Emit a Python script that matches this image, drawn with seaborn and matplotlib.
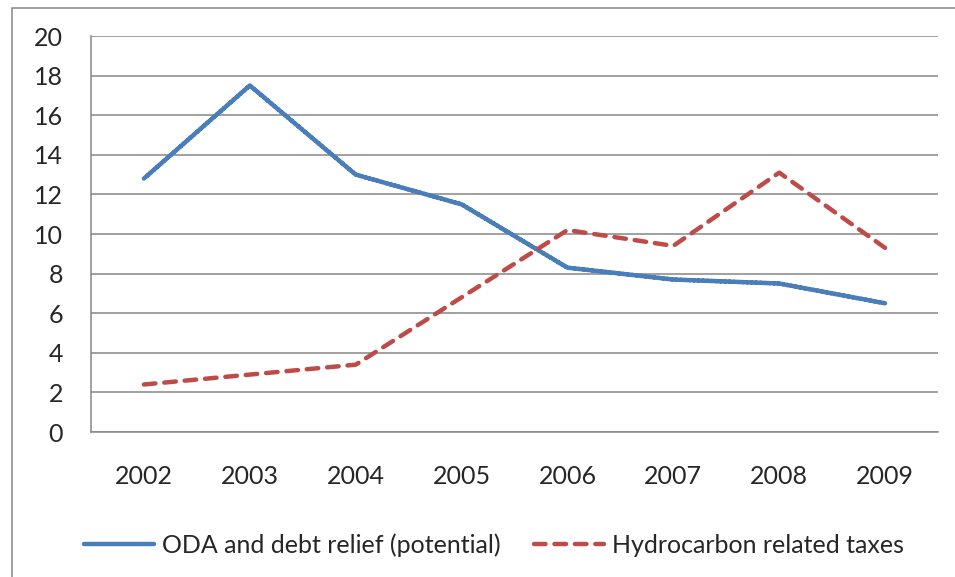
import numpy as np
import pandas as pd
import matplotlib
matplotlib.use('Agg')
import matplotlib.pyplot as plt
from matplotlib.patches import Rectangle
from matplotlib.lines import Line2D
import seaborn as sns

years = ['2002', '2003', '2004', '2005', '2006', '2007', '2008', '2009']
oda = [12.8, 17.5, 13.0, 11.5, 8.3, 7.7, 7.5, 6.5]
hydro = [2.4, 2.9, 3.4, 6.8, 10.2, 9.4, 13.1, 9.3]
series_names = ['ODA and debt relief (potential)', 'Hydrocarbon related taxes']
y_ticks = list(range(0, 21, 2))

sns.set_style('white')
plt.rcParams['font.family'] = ['Lato', 'DejaVu Sans']
size = 18
plt.rcParams.update({'legend.fontsize': size,
                     'xtick.labelsize': size,
                     'ytick.labelsize': size})

df = pd.DataFrame({'year': years * 2,
                   'value': oda + hydro,
                   'series': [series_names[0]] * len(years) + [series_names[1]] * len(years)})

grid_col = '#868686'
blue, red = '#4A7EBB', '#BE4B48'
W, H = 955, 577
fig = plt.figure(figsize=(W / 100, H / 100), dpi=100)
ax = fig.add_axes([91 / W, 1 - 432 / H, (938 - 91) / W, (432 - 36) / H])

sns.lineplot(data=df, x='year', y='value', hue='series', style='series',
             palette=[blue, red], dashes=[(1, 0), (2.6, 2.0)],
             linewidth=3.2, ax=ax, legend=False, sort=False)
for ln in ax.get_lines():
    ln.set_dash_capstyle('round')
    ln.set_solid_capstyle('round')
    ln.set_solid_joinstyle('miter')

ax.set_xlim(-0.5, len(years) - 0.5)
ax.set_ylim(0, 20)
ax.set_yticks(y_ticks)
ax.yaxis.grid(True, color=grid_col, linewidth=1.1)
ax.set_axisbelow(True)
ax.set_xlabel('')
ax.set_ylabel('')

ax.set_xticks(range(len(years)))
ax.set_xticklabels(years)
ax.set_xticks(np.arange(-0.5, len(years)), minor=True)
ax.tick_params(axis='x', which='major', length=0, pad=24)
ax.tick_params(axis='x', which='minor', length=7, width=1.1, color=grid_col)
ax.tick_params(axis='y', length=7, width=1.1, color=grid_col, pad=13)

for s in ['top', 'right']:
    ax.spines[s].set_visible(False)
for s in ['left', 'bottom']:
    ax.spines[s].set_color(grid_col)
    ax.spines[s].set_linewidth(1.1)

# outer chart border, cut off at the right and bottom edges
fig.patches.append(Rectangle((12 / W, -0.2), 1.2, 1.2 - 8 / H,
                             transform=fig.transFigure, fill=False,
                             edgecolor=grid_col, linewidth=1.1))

handles = [Line2D([], [], color=blue, lw=3.2, solid_capstyle='round'),
           Line2D([], [], color=red, lw=3.2, dashes=(2.6, 2.0), dash_capstyle='round')]
fig.legend(handles, series_names, loc='center', bbox_to_anchor=(494 / W, 1 - 545 / H),
           ncol=2, frameon=False, handlelength=2.8, handletextpad=0.32, columnspacing=1.3)

fig.savefig('out.png', dpi=100)
